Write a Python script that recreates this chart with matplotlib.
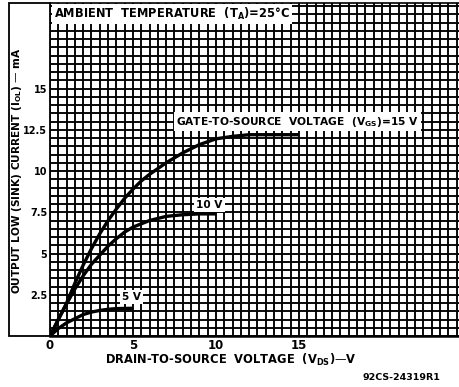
import matplotlib
matplotlib.use("Agg")
import matplotlib.pyplot as plt
import numpy as np
from matplotlib.patches import Rectangle

plt.rcParams['font.family'] = ['DejaVu Sans']
plt.rcParams['mathtext.default'] = 'bf'

# Data
vds_15 = [0, 0.5, 1, 1.5, 2, 2.5, 3, 3.5, 4, 4.5, 5, 5.5, 6, 7, 8, 9, 10, 11, 12, 13, 15]
iol_15 = [0, 1.0, 2.0, 3.2, 4.3, 5.3, 6.2, 7.0, 7.7, 8.35, 8.9, 9.4, 9.8, 10.5, 11.1, 11.6, 11.95, 12.1, 12.2, 12.2, 12.2]
vds_10 = [0, 0.5, 1, 1.5, 2, 2.5, 3, 3.5, 4, 4.5, 5, 6, 7, 8, 9, 10]
iol_10 = [0, 1.0, 1.95, 2.85, 3.65, 4.35, 4.9, 5.45, 5.9, 6.3, 6.6, 7.0, 7.25, 7.35, 7.4, 7.4]
vds_5 = [0, 0.5, 1, 1.5, 2, 2.5, 3, 3.5, 4, 5]
iol_5 = [0, 0.45, 0.8, 1.05, 1.3, 1.45, 1.55, 1.62, 1.66, 1.68]

xticks = [0, 5, 10, 15]
xticklabels = ["0", "5", "10", "15"]
yticks = [2.5, 5, 7.5, 10, 12.5, 15]
yticklabels = ["2.5", "5", "7.5", "10", "12.5", "15"]

W, H = 460, 387
fig = plt.figure(figsize=(W / 100, H / 100), dpi=100)

left_px, right_px, top_px, bot_px = 50, 460, 3, 336
ax = fig.add_axes([left_px / W, 1 - bot_px / H, (right_px - left_px) / W, (bot_px - top_px) / H])

ax.set_xlim(0, (right_px - left_px) / 16.6)
ax.set_ylim(0, (bot_px - top_px) / 16.5)

for xv in np.arange(0, 25, 0.5):
    ax.axvline(xv, color='black', lw=1.35, zorder=1)
for yv in np.arange(0, 20.5, 0.5):
    ax.axhline(yv, color='black', lw=1.35, zorder=1)

for xs, ys in [(vds_15, iol_15), (vds_10, iol_10), (vds_5, iol_5)]:
    ax.plot(xs, ys, color='black', lw=2.4, zorder=3, solid_capstyle='butt', solid_joinstyle='round')

ax.set_xticks(xticks)
ax.set_xticklabels(xticklabels, fontsize=8.5, fontweight='bold')
ax.set_yticks(yticks)
ax.set_yticklabels(yticklabels, fontsize=7, fontweight='bold')
ax.tick_params(length=0, pad=2)
for s in ['right', 'left']:
    ax.spines[s].set_visible(False)
ax.spines['bottom'].set_linewidth(1.8)
ax.spines['top'].set_linewidth(1.2)

box = dict(facecolor='white', edgecolor='none', pad=1.5)
ax.text(0.25, 19.5, "AMBIENT  TEMPERATURE  (T$_A$)=25°C", fontsize=8.3, fontweight='bold',
        ha='left', va='center', bbox=box, zorder=4)
ax.text(7.6, 13.0, "GATE-TO-SOURCE  VOLTAGE  (V$_{GS}$)=15 V", fontsize=7.7, fontweight='bold',
        ha='left', va='center', bbox=box, zorder=4)
ax.text(8.8, 7.95, "10 V", fontsize=7.6, fontweight='bold', ha='left', va='center', bbox=box, zorder=4)
ax.text(4.35, 2.35, "5 V", fontsize=7.6, fontweight='bold', ha='left', va='center', bbox=box, zorder=4)

# Label box on the left
fig.patches.append(Rectangle((9 / W, 1 - bot_px / H), (left_px - 9) / W, (bot_px - top_px) / H,
                             transform=fig.transFigure, facecolor='none', edgecolor='black', lw=1.3))
fig.text(17 / W, 1 - 170 / H, "OUTPUT LOW (SINK) CURRENT (I$_{OL}$) — mA", rotation=90,
         fontsize=7.6, fontweight='bold', ha='center', va='center')

fig.text(231 / W, 1 - 360 / H, "DRAIN-TO-SOURCE  VOLTAGE  (V$_{DS}$)—V", fontsize=8.3,
         fontweight='bold', ha='center', va='center')
fig.text(401 / W, 1 - 378 / H, "92CS-24319R1", fontsize=6.8, fontweight='bold', ha='center', va='center')

fig.savefig("out.png", dpi=100)
